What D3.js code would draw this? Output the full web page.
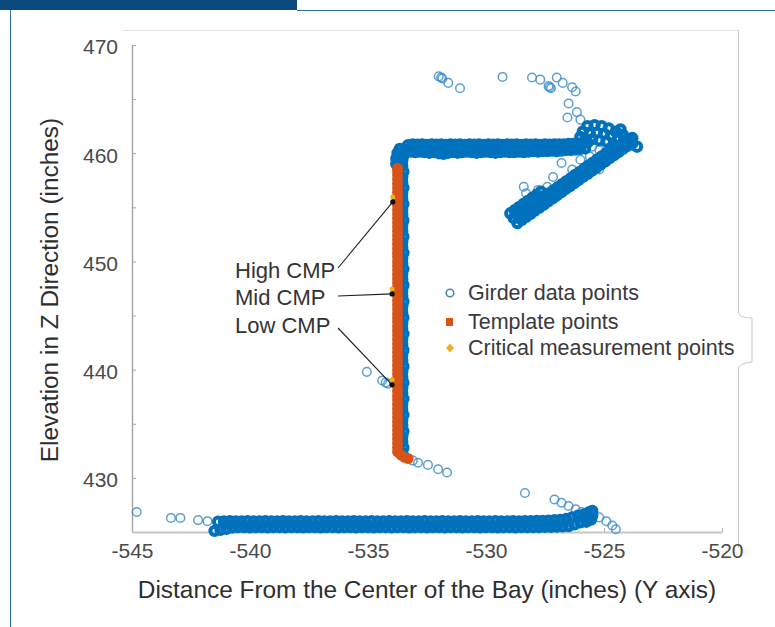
<!DOCTYPE html>
<html><head><meta charset="utf-8">
<script src="https://cdn.jsdelivr.net/npm/d3@7"></script>
<style>body{margin:0;background:#fff}svg{display:block}text{font-family:"Liberation Sans",Arial,Helvetica,sans-serif}</style>
</head><body><svg id="c" width="775" height="627"></svg>
<script>
// ---------- data ----------
const xTicks = [-545,-540,-535,-530,-525,-520];
const yTicks = [430,440,450,460,470];
const yMinorTicks = [435,445,455,465];
const seriesNames = ["Girder data points","Template points","Critical measurement points"];
const annotationLabels = ["High CMP","Mid CMP","Low CMP"];

// girder data points (blue open circles)
const girderTopRow1 = [[-533.3,460.75],[-533.1,460.8],[-532.9,460.78],[-532.7,460.8],[-532.5,460.76],[-532.3,460.8],[-532.1,460.78],[-531.9,460.8],[-531.7,460.77],[-531.5,460.8],[-531.3,460.78],[-531.1,460.8],[-530.9,460.76],[-530.7,460.8],[-530.5,460.78],[-530.3,460.8],[-530.1,460.77],[-529.9,460.8],[-529.7,460.78],[-529.5,460.8],[-529.3,460.76],[-529.1,460.8],[-528.9,460.78],[-528.7,460.8],[-528.5,460.77],[-528.3,460.8],[-528.1,460.78],[-527.9,460.8],[-527.7,460.76],[-527.5,460.8],[-527.3,460.78],[-527.1,460.8],[-526.9,460.8],[-526.7,460.82],[-526.5,460.85],[-526.3,460.85],[-526.1,460.9],[-525.9,460.95],[-525.7,461.0]];
const girderTopRow2 = [[-533.4,460.3],[-533.2,460.15],[-533.0,460.1],[-532.8,460.15],[-532.6,460.1],[-532.4,460.05],[-532.2,460.1],[-532.0,460.0],[-531.8,459.95],[-531.6,460.05],[-531.4,460.1],[-531.2,460.05],[-531.0,460.1],[-530.8,460.15],[-530.6,460.1],[-530.4,460.05],[-530.2,460.1],[-530.0,460.15],[-529.8,460.1],[-529.6,460.05],[-529.4,460.1],[-529.2,460.15],[-529.0,460.1],[-528.8,460.1],[-528.6,460.15],[-528.4,460.1],[-528.2,460.15],[-528.0,460.2],[-527.8,460.15],[-527.6,460.2],[-527.4,460.2],[-527.2,460.25],[-527.0,460.2],[-526.8,460.25],[-526.6,460.3],[-526.4,460.3],[-526.2,460.35],[-526.0,460.4],[-525.8,460.45]];
const girderColumn = [[-533.55,432.3],[-533.5,432.8],[-533.55,433.3],[-533.55,433.8],[-533.5,434.3],[-533.55,434.8],[-533.55,435.3],[-533.5,435.8],[-533.55,436.3],[-533.55,436.8],[-533.5,437.3],[-533.55,437.8],[-533.55,438.3],[-533.5,438.8],[-533.55,439.3],[-533.55,439.8],[-533.5,440.3],[-533.55,440.8],[-533.55,441.3],[-533.5,441.8],[-533.55,442.3],[-533.55,442.8],[-533.5,443.3],[-533.55,443.8],[-533.55,444.3],[-533.5,444.8],[-533.55,445.3],[-533.55,445.8],[-533.5,446.3],[-533.55,446.8],[-533.55,447.3],[-533.5,447.8],[-533.55,448.3],[-533.55,448.8],[-533.5,449.3],[-533.55,449.8],[-533.55,450.3],[-533.5,450.8],[-533.55,451.3],[-533.55,451.8],[-533.5,452.3],[-533.55,452.8],[-533.55,453.3],[-533.5,453.8],[-533.55,454.3],[-533.55,454.8],[-533.5,455.3],[-533.55,455.8],[-533.55,456.3],[-533.5,456.8],[-533.55,457.3],[-533.55,457.8],[-533.5,458.3],[-533.55,458.8],[-533.55,459.3],[-533.5,459.8],[-533.45,460.3],[-533.8,459.0],[-533.8,459.5],[-533.75,460.0],[-533.65,460.4]];
const girderColumnFoot = [[-533.3,431.75],[-533.1,431.6],[-532.88,431.4],[-532.46,431.2],[-532.03,430.8],[-531.65,430.5]];
const girderColumnStray = [[-535.05,439.8],[-534.4,439.0],[-534.25,438.8],[-534.15,438.7]];
const girderTopStray = [[-532.0,467.1],[-531.9,467.0],[-531.85,466.9],[-531.6,466.5],[-531.1,466.0],[-529.3,467.05],[-528.05,467.0],[-527.7,466.8],[-527.35,466.2],[-527.25,466.0],[-527.3,466.1],[-527.0,467.0],[-526.75,466.5],[-526.35,466.1],[-526.2,465.7],[-526.5,464.6],[-526.15,463.8],[-526.55,463.3],[-526.0,463.1]];
const girderArrowHead = [[-525.7,462.5],[-525.4,462.6],[-525.1,462.5],[-524.8,462.3],[-524.5,462.0],[-524.2,461.7],[-524.0,461.3],[-523.8,460.9],[-525.6,461.9],[-525.3,461.9],[-525.0,461.8],[-524.7,461.6],[-524.4,461.3],[-524.2,460.9],[-525.5,461.3],[-525.2,461.2],[-524.9,461.1],[-524.6,460.8],[-524.4,460.5],[-525.9,462.0],[-526.0,461.5],[-524.3,462.2],[-523.9,461.2],[-523.6,460.6],[-523.8,461.4]];
const girderLowerArmA = [[-528.67,453.55],[-528.48,453.84],[-528.3,454.12],[-528.11,454.4],[-527.93,454.7],[-527.74,454.98],[-527.55,455.25],[-527.37,455.55],[-527.18,455.83],[-527.0,456.1],[-526.81,456.4],[-526.62,456.7],[-526.44,456.97],[-526.25,457.25],[-526.07,457.54],[-525.88,457.83],[-525.69,458.1],[-525.51,458.4],[-525.32,458.68],[-525.14,458.97],[-524.95,459.25],[-524.76,459.55],[-524.58,459.82],[-524.39,460.1],[-524.2,460.4],[-524.01,460.67]];
const girderLowerArmB = [[-528.82,454.0],[-528.63,454.3],[-528.45,454.57],[-528.26,454.86],[-528.08,455.14],[-527.89,455.43],[-527.7,455.7],[-527.52,456.0],[-527.33,456.28],[-527.15,456.57],[-526.96,456.85],[-526.77,457.14],[-526.59,457.42],[-526.4,457.7],[-526.22,458.0],[-526.03,458.28],[-525.84,458.56],[-525.66,458.85],[-525.47,459.13],[-525.29,459.42],[-525.1,459.7],[-524.91,460.0],[-524.73,460.27],[-524.54,460.56]];
const girderLowerArmC = [[-528.97,454.45],[-528.78,454.74],[-528.6,455.02],[-528.41,455.31],[-528.23,455.59],[-528.04,455.88],[-527.85,456.16],[-527.67,456.45]];
const girderArmInner = [[-527.16,457.8],[-526.8,459.1],[-526.0,459.4],[-525.6,459.7],[-527.8,456.6],[-528.3,456.3],[-527.4,456.9],[-526.35,458.5],[-525.7,458.6],[-525.2,460.3],[-524.6,461.0],[-525.5,460.6],[-528.4,456.9],[-528.05,455.7],[-526.0,457.8],[-525.2,458.5],[-524.6,459.7],[-524.0,460.6]];
const girderBottomUpper = [[-541.35,425.95],[-541.1,425.98],[-540.85,426.0],[-540.6,425.97],[-540.35,425.98],[-540.1,426.0],[-539.85,425.97],[-539.6,425.98],[-539.35,426.0],[-539.1,425.97],[-538.85,425.98],[-538.6,426.0],[-538.35,425.97],[-538.1,425.98],[-537.85,426.0],[-537.6,425.97],[-537.35,425.98],[-537.1,426.0],[-536.85,425.97],[-536.6,425.98],[-536.35,426.0],[-536.1,425.97],[-535.85,425.98],[-535.6,426.0],[-535.35,425.97],[-535.1,425.98],[-534.85,426.0],[-534.6,425.97],[-534.35,425.98],[-534.1,426.0],[-533.85,425.97],[-533.6,425.98],[-533.35,426.0],[-533.1,425.97],[-532.85,425.98],[-532.6,426.0],[-532.35,425.97],[-532.1,425.98],[-531.85,426.0],[-531.6,425.97],[-531.35,425.98],[-531.1,426.0],[-530.85,425.97],[-530.6,425.98],[-530.35,426.0],[-530.1,425.97],[-529.85,425.98],[-529.6,426.0],[-529.35,425.97],[-529.1,425.98],[-528.85,426.0],[-528.6,425.98],[-528.35,426.0],[-528.1,426.0],[-527.85,426.02],[-527.6,426.03],[-527.35,426.05],[-527.1,426.08],[-526.85,426.12],[-526.6,426.2],[-526.35,426.35],[-526.1,426.5]];
const girderBottomLower = [[-541.5,425.1],[-541.25,425.2],[-541.0,425.3],[-540.75,425.42],[-540.5,425.45],[-540.25,425.45],[-540.0,425.43],[-539.75,425.45],[-539.5,425.45],[-539.25,425.43],[-539.0,425.45],[-538.75,425.45],[-538.5,425.43],[-538.25,425.45],[-538.0,425.45],[-537.75,425.43],[-537.5,425.45],[-537.25,425.45],[-537.0,425.43],[-536.75,425.45],[-536.5,425.45],[-536.25,425.43],[-536.0,425.45],[-535.75,425.45],[-535.5,425.43],[-535.25,425.45],[-535.0,425.45],[-534.75,425.43],[-534.5,425.45],[-534.25,425.45],[-534.0,425.43],[-533.75,425.45],[-533.5,425.45],[-533.25,425.43],[-533.0,425.45],[-532.75,425.45],[-532.5,425.43],[-532.25,425.45],[-532.0,425.45],[-531.75,425.43],[-531.5,425.45],[-531.25,425.45],[-531.0,425.43],[-530.75,425.45],[-530.5,425.45],[-530.25,425.43],[-530.0,425.45],[-529.75,425.45],[-529.5,425.43],[-529.25,425.45],[-529.0,425.45],[-528.75,425.43],[-528.5,425.45],[-528.25,425.45],[-528.0,425.45],[-527.75,425.45],[-527.5,425.47],[-527.25,425.48],[-527.0,425.5],[-526.75,425.52],[-526.5,425.55],[-526.25,425.7],[-526.0,425.9]];
const girderBottomEnd = [[-525.85,426.6],[-525.65,426.8],[-525.5,426.95],[-525.7,426.3],[-525.5,426.5],[-525.75,425.95],[-525.55,426.15]];
const girderBottomStray = [[-525.2,426.35],[-524.9,426.0],[-524.65,425.6],[-524.5,425.25],[-527.1,428.0],[-526.8,427.7],[-526.5,427.4],[-526.2,427.1],[-525.95,426.85],[-528.35,428.6],[-544.8,426.85],[-543.35,426.3],[-542.95,426.3],[-542.2,426.1],[-541.8,426.0]];

// template points (orange)
const templatePoints = [[-533.3,431.8],[-533.45,431.9],[-533.6,432.1],[-533.75,432.4],[-533.75,432.8],[-533.75,433.2],[-533.75,433.6],[-533.75,434.0],[-533.75,434.4],[-533.75,434.8],[-533.75,435.2],[-533.75,435.6],[-533.75,436.0],[-533.75,436.4],[-533.75,436.8],[-533.75,437.2],[-533.75,437.6],[-533.75,438.0],[-533.75,438.4],[-533.75,438.8],[-533.75,439.2],[-533.75,439.6],[-533.75,440.0],[-533.75,440.4],[-533.75,440.8],[-533.75,441.2],[-533.75,441.6],[-533.75,442.0],[-533.75,442.4],[-533.75,442.8],[-533.75,443.2],[-533.75,443.6],[-533.75,444.0],[-533.75,444.4],[-533.75,444.8],[-533.75,445.2],[-533.75,445.6],[-533.75,446.0],[-533.75,446.4],[-533.75,446.8],[-533.75,447.2],[-533.75,447.6],[-533.75,448.0],[-533.75,448.4],[-533.75,448.8],[-533.75,449.2],[-533.75,449.6],[-533.75,450.0],[-533.75,450.4],[-533.75,450.8],[-533.75,451.2],[-533.75,451.6],[-533.75,452.0],[-533.75,452.4],[-533.75,452.8],[-533.75,453.2],[-533.75,453.6],[-533.75,454.0],[-533.75,454.4],[-533.75,454.8],[-533.75,455.2],[-533.75,455.6],[-533.75,456.0],[-533.75,456.4],[-533.75,456.8],[-533.75,457.2],[-533.75,457.6],[-533.75,458.0],[-533.75,458.4],[-533.75,458.6]];

// critical measurement points (High, Mid, Low)
const criticalPoints = [[-533.95,455.5],[-533.98,447.0],[-533.98,438.6]];

// ---------- drawing ----------
const svg = d3.select("#c");
const x = d3.scaleLinear().domain([-545,-520]).range([132,722]);
const y = d3.scaleLinear().domain([425,470]).range([532,45]);

// page frame (figure header)
svg.append("rect").attr("x",0).attr("y",0).attr("width",297).attr("height",10).attr("fill","#0b4a7d");
svg.append("line").attr("x1",297).attr("x2",775).attr("y1",10.5).attr("y2",10.5).attr("stroke","#2f6ea5").attr("stroke-width",1);
svg.append("line").attr("x1",10.5).attr("x2",10.5).attr("y1",10).attr("y2",627).attr("stroke","#2f6ea5").attr("stroke-width",1);
svg.append("path").attr("d","M123,30.5H738").attr("stroke","#e2e2e2").attr("fill","none");
svg.append("path").attr("d","M738.5,30V313Q740,318 752,318V362Q740,363 738.5,368V548").attr("stroke","#cacaca").attr("fill","none");

// axes
const fmt = d => String(d);
const gy = svg.append("g").attr("transform","translate(132,0)")
  .call(d3.axisLeft(y).tickValues(yTicks).tickFormat(fmt).tickSizeInner(-4).tickSizeOuter(0).tickPadding(14));
gy.select(".domain").attr("stroke","#a3a3a3").attr("stroke-width",1.4);
gy.selectAll(".tick line").attr("stroke","#a3a3a3");
gy.selectAll(".tick text").attr("font-size",21).attr("fill","#4a4a4a").attr("dy","0.42em").style("font-family","'Liberation Sans',Arial,sans-serif");
const gym = svg.append("g").attr("transform","translate(132,0)")
  .call(d3.axisLeft(y).tickValues(yMinorTicks).tickFormat("").tickSizeInner(-4).tickSizeOuter(0));
gym.select(".domain").remove();
gym.selectAll(".tick line").attr("stroke","#a3a3a3");

const gx = svg.append("g").attr("transform","translate(0,532)")
  .call(d3.axisBottom(x).tickValues(xTicks).tickFormat(fmt).tickSizeInner(-4).tickSizeOuter(0).tickPadding(11));
gx.select(".domain").attr("stroke","#c6c6c6").attr("stroke-width",2);
gx.selectAll(".tick line").attr("stroke","#b0b0b0");
gx.selectAll(".tick text").attr("font-size",21).attr("fill","#4a4a4a").style("font-family","'Liberation Sans',Arial,sans-serif");

// axis titles
svg.append("text").attr("x",427).attr("y",598).attr("text-anchor","middle").attr("font-size",24.4).attr("fill","#2e2e2e")
  .text("Distance From the Center of the Bay (inches) (Y axis)");
svg.append("text").attr("transform","translate(58,290) rotate(-90)").attr("text-anchor","middle").attr("font-size",24.4).attr("fill","#2e2e2e")
  .text("Elevation in Z Direction (inches)");

// girder points
const blue = "#0072BD";
const dense = [].concat(girderTopRow1, girderTopRow2, girderColumn, girderLowerArmA, girderLowerArmB, girderLowerArmC,
  girderArrowHead, girderBottomLower, girderBottomUpper, girderBottomEnd);
const sparse = [].concat(girderTopStray, girderArmInner, girderColumnFoot, girderColumnStray, girderBottomStray);
svg.append("g").selectAll("circle").data(sparse).join("circle")
  .attr("cx",d=>x(d[0])).attr("cy",d=>y(d[1])).attr("r",4.3)
  .attr("fill","none").attr("stroke","#3f8fcb").attr("stroke-width",1.5).attr("stroke-opacity",0.85);
svg.append("g").selectAll("circle").data(dense).join("circle")
  .attr("cx",d=>x(d[0])).attr("cy",d=>y(d[1])).attr("r",4.2)
  .attr("fill","none").attr("stroke",blue).attr("stroke-width",4);

// template points
svg.append("g").selectAll("circle").data(templatePoints).join("circle")
  .attr("cx",d=>x(d[0])).attr("cy",d=>y(d[1])).attr("r",5.4).attr("fill","#D95319");

// critical measurement points
svg.append("g").selectAll("circle").data(criticalPoints).join("circle")
  .attr("cx",d=>x(d[0])).attr("cy",d=>y(d[1])-5).attr("r",2.5).attr("fill","#EDB120");

// annotations
const annText = [[235,278],[235,305],[235,333]];
const annStart = [[338,268],[338,296],[338,328]];
const ann = svg.append("g");
criticalPoints.forEach((p,i)=>{
  ann.append("line").attr("x1",annStart[i][0]).attr("y1",annStart[i][1]).attr("x2",x(p[0])).attr("y2",y(p[1]))
    .attr("stroke","#222").attr("stroke-width",1.1);
  ann.append("circle").attr("cx",x(p[0])).attr("cy",y(p[1])).attr("r",2.6).attr("fill","#111");
  ann.append("text").attr("x",annText[i][0]).attr("y",annText[i][1]).attr("font-size",22).attr("fill","#333").text(annotationLabels[i]);
});

// legend
const lg = svg.append("g");
const rows = [293,322,348];
lg.append("circle").attr("cx",450).attr("cy",rows[0]).attr("r",3.8).attr("fill","none").attr("stroke","#4a8aa6").attr("stroke-width",1.6);
lg.append("rect").attr("x",446).attr("y",rows[1]-4).attr("width",7).attr("height",8).attr("fill","#D95319");
lg.append("path").attr("d",`M450,${rows[2]-4.5}L454,${rows[2]}L450,${rows[2]+4.5}L446,${rows[2]}Z`).attr("fill","#EDB120");
seriesNames.forEach((s,i)=>{
  lg.append("text").attr("x",468).attr("y",rows[i]+7).attr("font-size",21.5).attr("fill","#3a3a3a").text(s);
});
</script></body></html>
